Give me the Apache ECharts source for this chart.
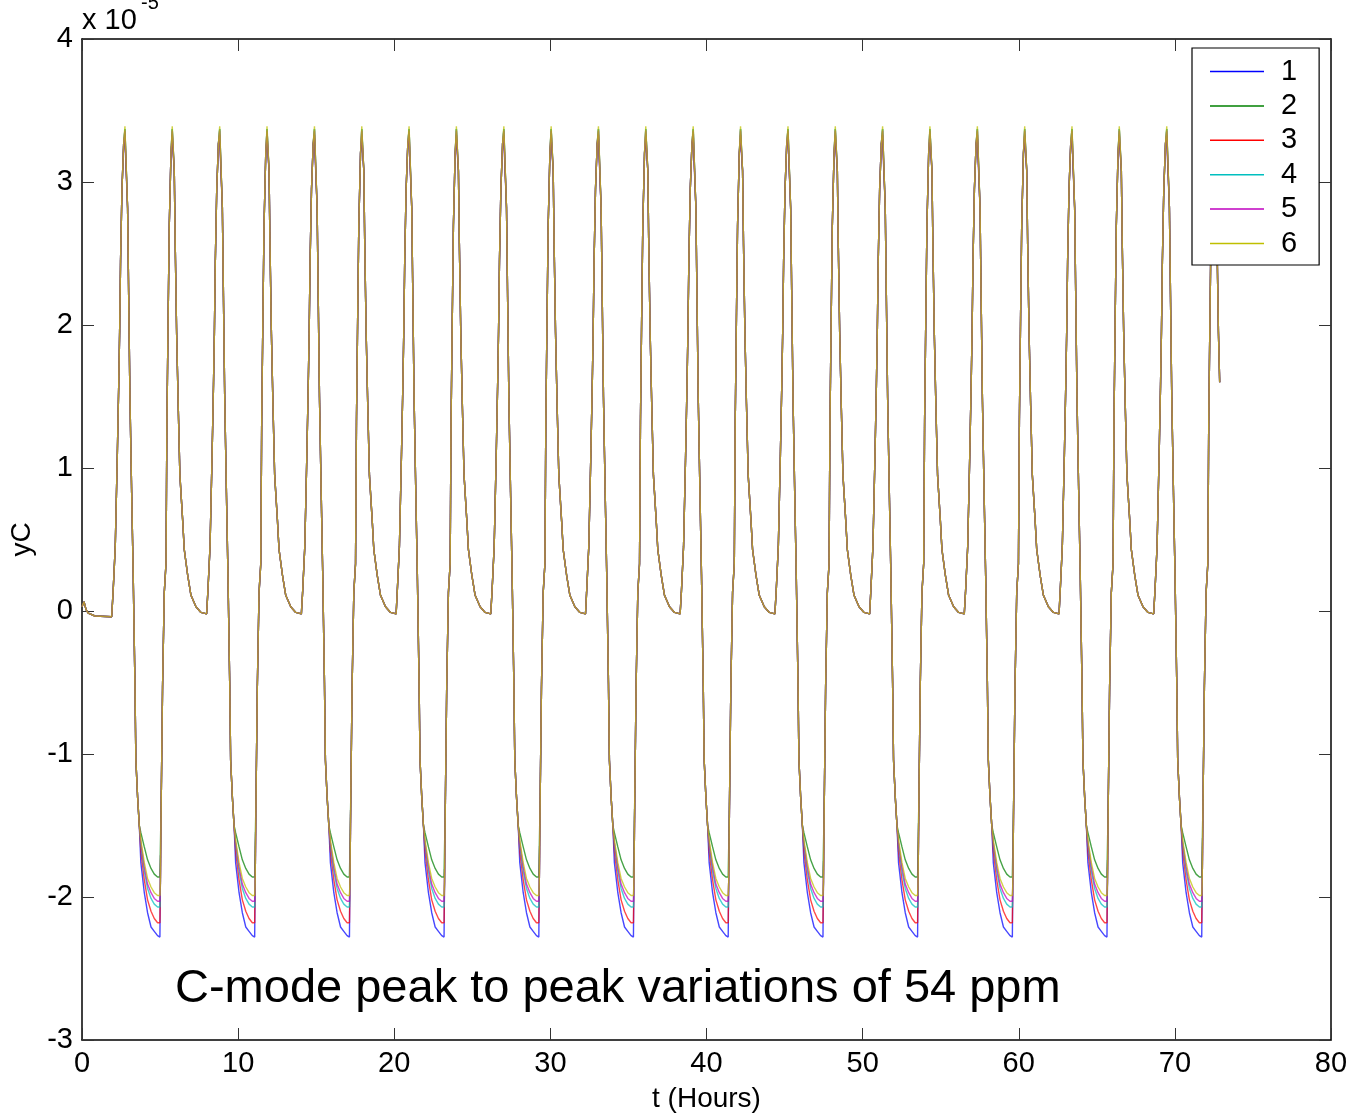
<!DOCTYPE html>
<html>
<head>
<meta charset="utf-8">
<script src="https://cdn.jsdelivr.net/npm/echarts@6/dist/echarts.min.js"></script>
<style>
  html, body { margin: 0; padding: 0; background: #fff; }
  #chart { width: 1356px; height: 1119px; }
</style>
</head>
<body>
<div id="chart"></div>
<script>
// values in units of 1e-5, time in hours
const seriesNames = ['1', '2', '3', '4', '5', '6'];
const seriesColors = ['#0000ff', '#008000', '#ff0000', '#00bfbf', '#bf00bf', '#bfbf00'];

// time of the first peak of each 6-hour cycle (peak followed by the deep dip)
const cycleStart = [2.75, 8.82, 14.89, 20.95, 27.02, 33.08, 39.15, 45.22, 51.28, 57.35, 63.41, 69.48];

// flat start before the first rise
const leadT = [0, 0.13, 0.26, 0.40, 0.83, 1.90];
const leadY = [0.03, 0.065, 0.01, -0.015, -0.035, -0.04];

// rise into a peak, offsets from that peak
const riseT = [-0.76, -0.62, -0.49, -0.40, -0.34, -0.28, -0.19, -0.08];
const riseY = [0.13, 0.45, 1.08, 1.57, 1.95, 2.45, 2.95, 3.27];

// fall from the first peak into the dip (shared part)
const fallT = [0.17, 0.24, 0.32, 0.43, 0.53, 0.64, 0.70, 0.81, 0.92];
const fallY = [2.82, 2.2, 1.5, 0.83, 0.25, -0.5, -1.04, -1.3, -1.5];

// bottom of the dip, one curve per series
const troughT = [1.02, 1.24, 1.45, 1.67, 1.88, 2.09, 2.24];
const trough1 = [-1.76, -1.97, -2.11, -2.21, -2.24, -2.27, -2.28];
const trough2 = [-1.55, -1.65, -1.74, -1.80, -1.84, -1.86, -1.86];
const trough3 = [-1.68, -1.88, -2.02, -2.10, -2.15, -2.18, -2.18];
const trough4 = [-1.64, -1.82, -1.94, -2.01, -2.05, -2.07, -2.07];
const trough5 = [-1.62, -1.79, -1.91, -1.97, -2.01, -2.03, -2.03];
const trough6 = [-1.60, -1.76, -1.87, -1.93, -1.97, -1.99, -1.99];
const troughs = [trough1, trough2, trough3, trough4, trough5, trough6];

// climb out of the dip to the second peak
const reboundT = [2.27, 2.33, 2.41, 2.52, 2.63, 2.69, 2.77, 2.84, 2.95];
const reboundY = [-1.9, -1.27, -0.53, 0.13, 0.33, 1.33, 2.08, 2.7, 3.2];
const secondPeakT = 3.03;

// slow decay after the second peak, offsets from it
const decayT = [0.13, 0.19, 0.28, 0.38, 0.49, 0.67, 0.77, 0.99, 1.2, 1.52, 1.84, 2.2];
const decayY = [3.08, 2.57, 1.95, 1.45, 0.95, 0.63, 0.43, 0.25, 0.11, 0.03, -0.01, -0.02];

// end of the record after the last peak
const tailT = [0.13, 0.19, 0.28, 0.36];
const tailY = [3.08, 2.57, 1.95, 1.6];

const peakY = [3.30, 3.37, 3.33, 3.37, 3.36, 3.39];

const xTicks = { min: 0, max: 80, step: 10 };
const yTicks = { min: -3, max: 4, step: 1 };

function buildLine(s) {
  const pts = [];
  leadT.forEach((t, i) => pts.push([t, leadY[i]]));
  cycleStart.forEach((t0, c) => {
    riseT.forEach((dt, i) => pts.push([t0 + dt, riseY[i]]));
    pts.push([t0, peakY[s]]);
    fallT.forEach((dt, i) => pts.push([t0 + dt, fallY[i]]));
    troughT.forEach((dt, i) => pts.push([t0 + dt, troughs[s][i]]));
    reboundT.forEach((dt, i) => pts.push([t0 + dt, Math.max(reboundY[i], troughs[s][6])]));
    const tb = t0 + secondPeakT;
    pts.push([tb, peakY[s]]);
    if (c < cycleStart.length - 1) {
      decayT.forEach((dt, i) => pts.push([tb + dt, decayY[i]]));
    } else {
      tailT.forEach((dt, i) => pts.push([tb + dt, tailY[i]]));
    }
  });
  return pts;
}

const font = 'Liberation Sans, Arial, sans-serif';
const chart = echarts.init(document.getElementById('chart'));

const baseX = {
  type: 'value', min: xTicks.min, max: xTicks.max, interval: xTicks.step,
  axisLine: { show: true, onZero: false, lineStyle: { color: '#000', width: 1.5 } },
  axisTick: { show: true, inside: true, length: 12, lineStyle: { color: '#333' } },
  splitLine: { show: false }
};
const baseY = {
  type: 'value', min: yTicks.min, max: yTicks.max, interval: yTicks.step,
  axisLine: { show: true, onZero: false, lineStyle: { color: '#000', width: 1.5 } },
  axisTick: { show: true, inside: true, length: 12, lineStyle: { color: '#333' } },
  splitLine: { show: false }
};

chart.setOption({
  animation: false,
  backgroundColor: '#fff',
  grid: { left: 82, right: 25, top: 39, bottom: 79, containLabel: false },
  xAxis: [
    Object.assign({}, baseX, {
      position: 'bottom',
      axisLabel: { color: '#000', fontSize: 29, fontFamily: font, margin: 9 },
      name: 't (Hours)', nameLocation: 'middle', nameGap: 45,
      nameTextStyle: { color: '#000', fontSize: 28, fontFamily: font }
    }),
    Object.assign({}, baseX, { position: 'top', axisLabel: { show: false } })
  ],
  yAxis: [
    Object.assign({}, baseY, {
      position: 'left',
      axisLabel: { color: '#000', fontSize: 29, fontFamily: font, margin: 9 },
      name: 'yC', nameLocation: 'middle', nameGap: 34, nameRotate: 90,
      nameTextStyle: { color: '#000', fontSize: 28, fontFamily: font }
    }),
    Object.assign({}, baseY, { position: 'right', axisLabel: { show: false } })
  ],
  legend: {
    orient: 'vertical',
    left: 1192, top: 48,
    backgroundColor: '#fff',
    borderColor: '#000', borderWidth: 1.2, borderRadius: 0,
    padding: [9, 22, 7, 18],
    icon: 'rect',
    itemWidth: 54, itemHeight: 1.5, itemGap: 5.4,
    textStyle: { color: '#000', fontSize: 29, lineHeight: 28, fontFamily: font, padding: [0, 0, 0, 12] },
    data: seriesNames
  },
  series: seriesNames.map((name, s) => ({
    name,
    type: 'line',
    data: buildLine(s),
    showSymbol: false,
    symbol: 'none',
    color: seriesColors[s],
    itemStyle: { color: seriesColors[s] },
    lineStyle: { width: 1.4, color: seriesColors[s], opacity: 0.72 },
    emphasis: { disabled: true }
  })),
  graphic: [
    { type: 'text', left: 82, top: 6, style: { text: 'x 10', font: '29px ' + font, fill: '#000' } },
    { type: 'text', left: 141, top: -7, style: { text: '-5', font: '20px ' + font, fill: '#000' } },
    { type: 'text', left: 175, top: 966, style: { text: 'C-mode peak to peak variations of 54 ppm', font: '47px ' + font, fill: '#000' } }
  ]
});
</script>
</body>
</html>
